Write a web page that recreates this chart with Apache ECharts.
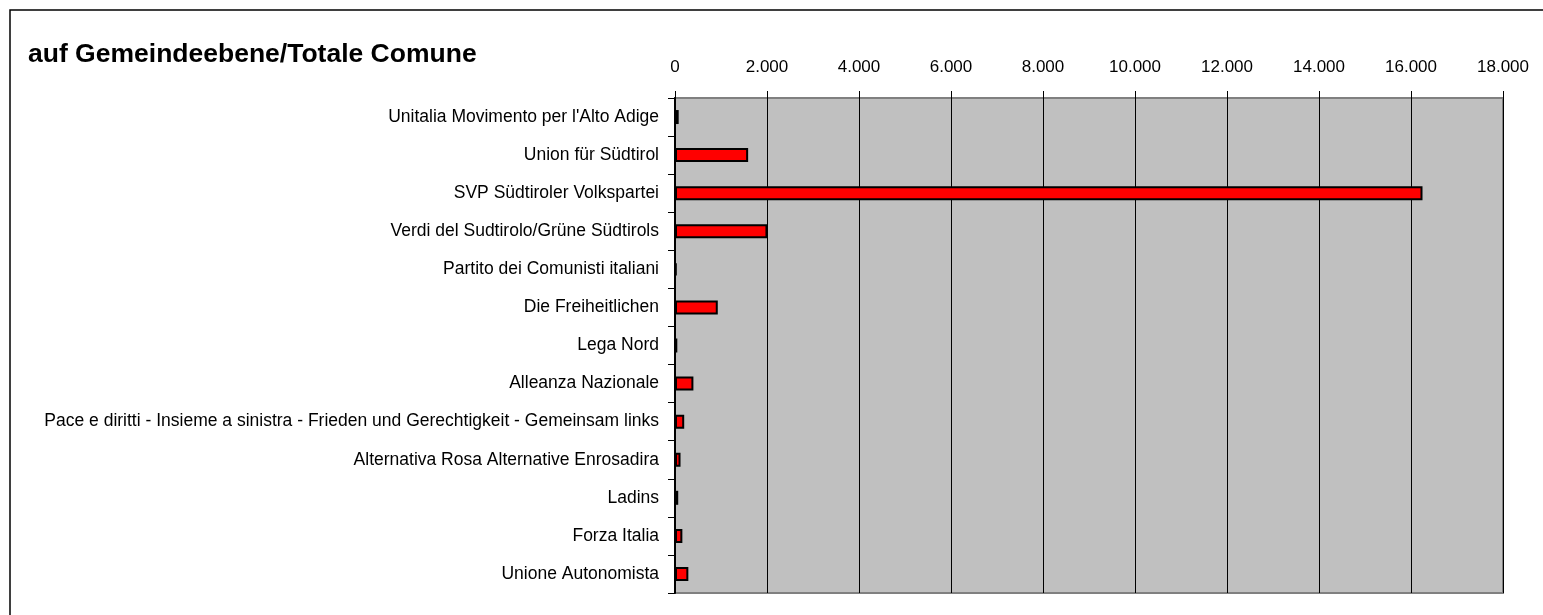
<!DOCTYPE html>
<html>
<head>
<meta charset="utf-8">
<title>auf Gemeindeebene/Totale Comune</title>
<script src="https://cdn.jsdelivr.net/npm/echarts@6/dist/echarts.min.js"></script>
<style>
  html, body { margin: 0; padding: 0; background: #fff; }
  #chart { width: 1543px; height: 615px; }
</style>
</head>
<body>
<div id="chart"></div>
<script>
// Parteien / partiti (von oben nach unten)
const parties = [
  'Unitalia Movimento per l\'Alto Adige',
  'Union für Südtirol',
  'SVP Südtiroler Volkspartei',
  'Verdi del Sudtirolo/Grüne Südtirols',
  'Partito dei Comunisti italiani',
  'Die Freiheitlichen',
  'Lega Nord',
  'Alleanza Nazionale',
  'Pace e diritti - Insieme a sinistra - Frieden und Gerechtigkeit - Gemeinsam links',
  'Alternativa Rosa Alternative Enrosadira',
  'Ladins',
  'Forza Italia',
  'Unione Autonomista'
]

// Stimmen / voti (aus dem Bild geschätzt)
const votes = [80, 1590, 16250, 2010, 35, 930, 50, 400, 200, 120, 70, 160, 290]

// Achse
const axisMin = 0
const axisMax = 18000
const axisStep = 2000

const FONT = "'Liberation Sans', Arial, sans-serif"

// Tausendertrennzeichen mit Punkt
const fmt = v => String(v).replace(/\B(?=(\d{3})+(?!\d))/g, '.')

const chart = echarts.init(document.getElementById('chart'))

const option = {
  animation: false,
  textStyle: { fontFamily: FONT },
  title: {
    text: 'auf Gemeindeebene/Totale Comune',
    left: 23,
    top: 36,
    textStyle: { fontFamily: FONT, fontSize: 26.5, fontWeight: 'bold', color: '#000' }
  },
  graphic: [
    {
      type: 'rect',
      shape: { x: 10, y: 10, width: 1600, height: 700 },
      style: { fill: 'none', stroke: '#000', lineWidth: 1.5 },
      silent: true
    }
  ],
  grid: {
    left: 675,
    right: 40,
    top: 98,
    bottom: 22,
    show: true,
    backgroundColor: '#C0C0C0',
    borderColor: '#808080',
    borderWidth: 2
  },
  xAxis: {
    type: 'value',
    position: 'top',
    min: axisMin,
    max: axisMax,
    interval: axisStep,
    axisLine: { show: false },
    axisTick: { show: true, length: 7, inside: false, lineStyle: { color: '#000', width: 1 } },
    axisLabel: {
      margin: 22,
      fontSize: 17,
      color: '#000',
      fontFamily: FONT,
      formatter: fmt
    },
    splitLine: { show: true, lineStyle: { color: '#000', width: 1 } }
  },
  yAxis: {
    type: 'category',
    inverse: true,
    data: parties,
    axisLine: { show: true, lineStyle: { color: '#000', width: 2 } },
    axisTick: { show: true, length: 7, inside: false, lineStyle: { color: '#000', width: 1 } },
    axisLabel: {
      margin: 16,
      fontSize: 17.5,
      color: '#000',
      fontFamily: FONT
    },
    splitLine: { show: false }
  },
  series: [
    {
      type: 'bar',
      data: votes,
      barWidth: 14,
      itemStyle: {
        color: '#FF0000',
        borderColor: '#000',
        borderWidth: 2
      }
    }
  ]
}

chart.setOption(option)
</script>
</body>
</html>
